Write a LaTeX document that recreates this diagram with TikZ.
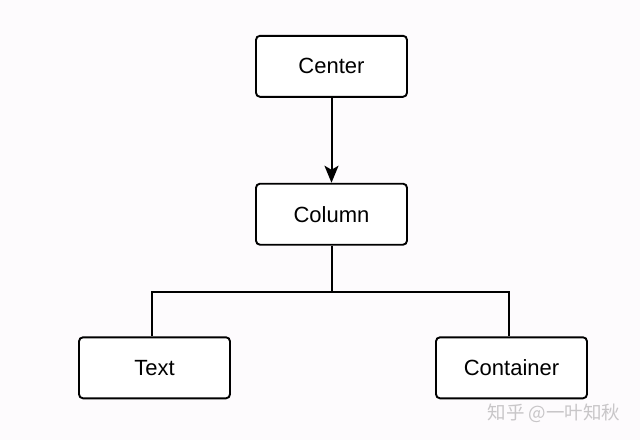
\documentclass[tikz,border=0pt]{standalone}
\usepackage{fontspec}
\setmainfont{Liberation Sans}
\newfontfamily\cjk{Noto Sans CJK SC}
\usetikzlibrary{arrows.meta,calc}
\definecolor{bg}{HTML}{FDFBFD}
\definecolor{wm}{HTML}{C8C6C8}
\begin{document}
\begin{tikzpicture}[x=1pt,y=-1pt,
  box/.style={draw=black, line width=1.9pt, rounded corners=4pt, fill=white, minimum width=151pt, minimum height=61pt, inner sep=0pt, font=\fontsize{22}{24}\selectfont},
  conn/.style={draw=black, line width=2pt},
  arr/.style={conn, -{Stealth[length=17pt, width=14pt, inset=4pt]}}]
\fill[bg] (0,0) rectangle (640,440);
\useasboundingbox (0,0) rectangle (640,440);
\node[box] (center) at (331.5,66.3) {Center};
\node[box] (column) at (331.5,214.2) {Column};
\node[box] (text) at (154.5,367.8) {Text};
\node[box] (container) at (511.5,367.8) {Container};
\coordinate (j) at (331.5,292);
\draw[arr] (center) -- (column);
\draw[conn] (column.south) -- (j) -| ($(text.north)+(-2.8,0)$);
\draw[conn] (j) -| ($(container.north)+(-3,0)$);
\node[text=wm, font=\cjk\fontsize{18.5}{20}\selectfont, anchor=east] (wmark) at (624,413) {知乎 @一叶知秋};
\end{tikzpicture}
\end{document}
